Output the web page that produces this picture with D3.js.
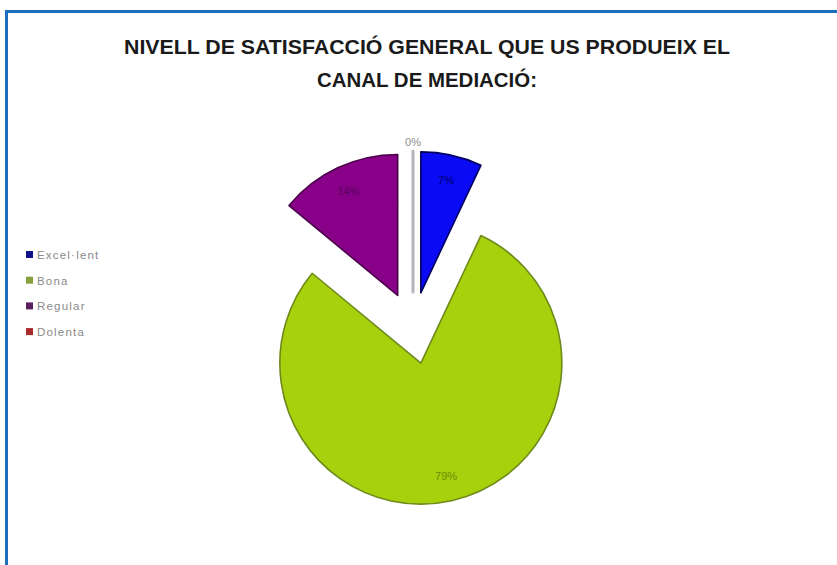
<!DOCTYPE html>
<html>
<head>
<meta charset="utf-8">
<script src="https://cdn.jsdelivr.net/npm/d3@7/dist/d3.min.js"></script>
<style>
  html, body { margin: 0; padding: 0; background: #fff; }
  svg { display: block; }
</style>
</head>
<body>
<div id="chart"></div>
<script>
// data
const categories = ["Excel·lent", "Bona", "Regular", "Dolenta"];
const values = [7, 79, 14, 0];
const labels = ["7%", "79%", "14%", "0%"];
const titleLines = ["NIVELL DE SATISFACCIÓ GENERAL QUE US PRODUEIX EL", "CANAL DE MEDIACIÓ:"];

const fills = ["#0a0af5", "#a6d10c", "#880088", "#a01818"];
const strokes = ["#00005e", "#6e8a1c", "#4a004a", "#b4b4bc"];
const labelColors = ["#00006a", "#6d8c08", "#5c005c", "#8c8c8c"];
const legendColors = ["#10108a", "#86a03c", "#5a2060", "#a82a2a"];

const width = 837, height = 565;
const cx = 413, cy = 328, radius = 141, explode = 36;

const svg = d3.select("#chart").append("svg")
  .attr("width", width)
  .attr("height", height)
  .attr("font-family", "Liberation Sans, Arial, sans-serif");

// frame
svg.append("rect").attr("x", 0).attr("y", 0).attr("width", width).attr("height", height).attr("fill", "#fff");
svg.append("path")
  .attr("d", `M6.5,${height} L6.5,11.5 L${width},11.5`)
  .attr("fill", "none")
  .attr("stroke", "#1b6fbd")
  .attr("stroke-width", 3);

// title
const titleY = [54, 87];
const titleW = [606, 220];
svg.selectAll("text.title")
  .data(titleLines)
  .join("text")
  .attr("class", "title")
  .attr("x", 427)
  .attr("y", (d, i) => titleY[i])
  .attr("text-anchor", "middle")
  .attr("font-family", "Liberation Sans Narrow, Arial Narrow, Liberation Sans, sans-serif")
  .attr("font-size", 20)
  .attr("font-weight", "bold")
  .attr("fill", "#1a1a1a")
  .attr("textLength", (d, i) => titleW[i])
  .attr("lengthAdjust", "spacingAndGlyphs")
  .text(d => d);

// pie
const pie = d3.pie().sort(null).value(d => d)(values);
const arc = d3.arc().innerRadius(0).outerRadius(radius);
const labelArc = d3.arc().innerRadius(radius * 0.82).outerRadius(radius * 0.82);
const outerLabelArc = d3.arc().innerRadius(radius * 1.06).outerRadius(radius * 1.06);

const offset = d => {
  const mid = (d.startAngle + d.endAngle) / 2;
  return [explode * Math.sin(mid), -explode * Math.cos(mid)];
};

const g = svg.append("g").attr("transform", `translate(${cx},${cy})`);

const slices = g.selectAll("g.slice")
  .data(pie)
  .join("g")
  .attr("class", "slice")
  .attr("transform", d => `translate(${offset(d)})`);

slices.append("path")
  .attr("d", arc)
  .attr("fill", (d, i) => fills[i])
  .attr("stroke", (d, i) => strokes[i])
  .attr("stroke-width", (d, i) => values[i] === 0 ? 3 : 1.6)
  .attr("stroke-linejoin", "round");

slices.append("text")
  .attr("transform", (d, i) => `translate(${(values[i] === 0 ? outerLabelArc : labelArc).centroid(d)})`)
  .attr("text-anchor", "middle")
  .attr("dy", "0.35em")
  .attr("font-size", 11)
  .attr("fill", (d, i) => labelColors[i])
  .text((d, i) => labels[i]);

// legend
const legend = svg.append("g").attr("transform", "translate(26,255)");
const items = legend.selectAll("g")
  .data(categories)
  .join("g")
  .attr("transform", (d, i) => `translate(0,${i * 25.7})`);
items.append("rect")
  .attr("x", 0).attr("y", -4)
  .attr("width", 7).attr("height", 7)
  .attr("fill", (d, i) => legendColors[i]);
items.append("text")
  .attr("x", 11)
  .attr("dy", "0.35em")
  .attr("font-size", 11.5)
  .attr("letter-spacing", 1.2)
  .attr("fill", "#8a8a8a")
  .text(d => d);
</script>
</body>
</html>
